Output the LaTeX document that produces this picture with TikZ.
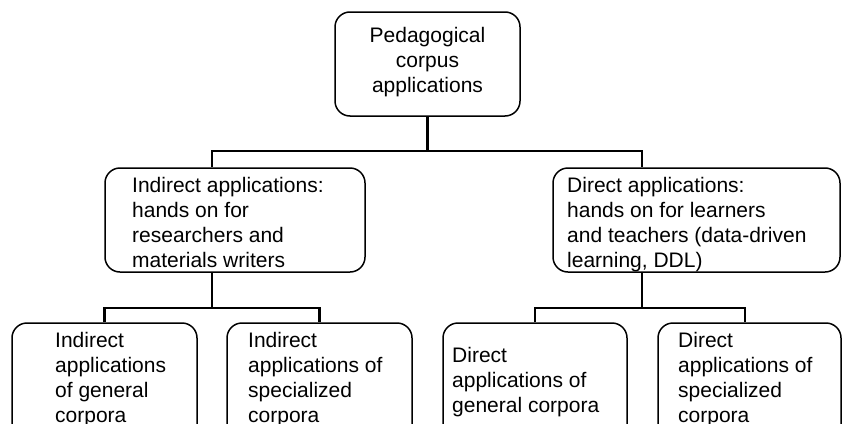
\documentclass[tikz,border=0pt]{standalone}
\usepackage{fontspec}
\setmainfont{Liberation Sans}
\begin{document}
\begin{tikzpicture}[x=1pt,y=-1pt,
 box/.style={draw, rounded corners=15pt, line width=1.5pt, inner sep=0pt},
 txt/.style={inner sep=0pt, align=left, anchor=north west, font=\fontsize{21}{25}\selectfont},
 conn/.style={line width=2.4pt}]
\useasboundingbox (0,0) rectangle (842,423);
\clip (0,0) rectangle (842,423);
% boxes
\node[box, minimum width=185pt, minimum height=104pt] (top) at (427.5,64) {};
\node[box, minimum width=260pt, minimum height=104pt] (lm) at (235,220) {};
\node[box, minimum width=287pt, minimum height=104pt] (rm) at (696.5,220) {};
\node[box, minimum width=185pt, minimum height=116pt] (ll) at (104.5,381) {};
\node[box, minimum width=185pt, minimum height=116pt] (lr) at (319.5,381) {};
\node[box, minimum width=184pt, minimum height=116pt] (rl) at (535,381) {};
\node[box, minimum width=183pt, minimum height=116pt] (rr) at (749.5,381) {};
% texts
\node[txt, anchor=center, align=center] (topt) at (427.5,62) {Pedagogical\\corpus\\applications};
\node[txt] (lmt) at (132,177) {Indirect applications:\\hands on for\\researchers and\\materials writers};
\node[txt] (rmt) at (567,177) {Direct applications:\\hands on for learners\\and teachers (data-driven\\learning, DDL)};
\node[txt] (llt) at (55,332) {Indirect\\applications\\of general\\corpora};
\node[txt] (lrt) at (248,332) {Indirect\\applications of\\specialized\\corpora};
\node[txt] (rlt) at (452,347) {Direct\\applications of\\general corpora};
\node[txt] (rrt) at (678,332) {Direct\\applications of\\specialized\\corpora};
% connectors
\draw[conn] (top.south) -- ++(0,34) coordinate (j0);
\draw[conn] ([xshift=-23pt]lm.north) |- (j0) -| ([xshift=-54.5pt]rm.north);
\draw[conn] ([xshift=-23pt]lm.south) -- ++(0,35) coordinate (j1);
\draw[conn] (ll.north) |- (j1) -| (lr.north);
\draw[conn] ([xshift=-54.5pt]rm.south) -- ++(0,35) coordinate (j2);
\draw[conn] (rl.north) |- (j2) -| ([xshift=-4.5pt]rr.north);
\end{tikzpicture}
\end{document}
